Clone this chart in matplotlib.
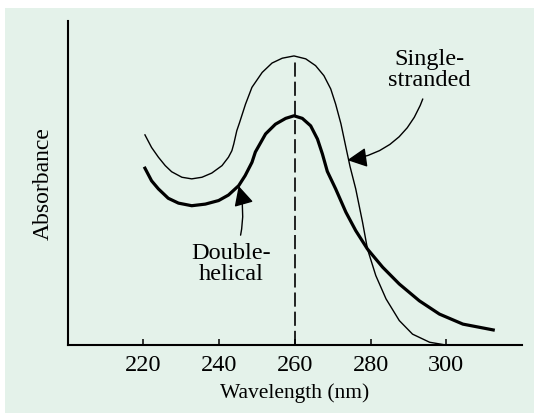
import matplotlib
matplotlib.use('Agg')
import matplotlib.pyplot as plt
from matplotlib.patches import Rectangle

# single-stranded (thin line)
ss_nm = [220.45, 222.2, 224.0, 225.8, 227.5, 230.2, 232.8, 235.5, 238.1, 240.8,
         242.5, 243.4, 243.9, 244.7, 245.4, 247.0, 248.7, 251.4, 254.0, 256.7,
         259.8, 262.9, 265.5, 267.7, 269.5, 270.8, 272.2, 273.5, 274.6, 276.1,
         277.9, 279.2, 281.4, 284.1, 287.6, 291.1, 295.6, 299.1]
ss_abs = [0.648, 0.609, 0.579, 0.553, 0.534, 0.517, 0.512, 0.517, 0.530, 0.553,
          0.579, 0.599, 0.620, 0.661, 0.685, 0.743, 0.795, 0.841, 0.870, 0.885,
          0.892, 0.883, 0.862, 0.831, 0.790, 0.743, 0.682, 0.610, 0.550, 0.481,
          0.378, 0.295, 0.213, 0.141, 0.074, 0.032, 0.007, 0.0]

# double-helical (thick line)
ds_nm = [220.45, 222.2, 224.0, 226.6, 229.3, 232.8, 236.4, 239.9, 242.5, 245.2,
         246.9, 248.7, 249.6, 252.3, 254.9, 257.6, 259.8, 262.0, 264.2, 266.0,
         267.3, 268.6, 270.8, 273.5, 276.1, 279.2, 283.2, 287.6, 292.9, 298.2,
         304.4, 312.4]
ds_abs = [0.545, 0.506, 0.481, 0.452, 0.437, 0.429, 0.434, 0.445, 0.462, 0.491,
          0.522, 0.563, 0.595, 0.651, 0.681, 0.699, 0.707, 0.699, 0.676, 0.635,
          0.589, 0.535, 0.481, 0.409, 0.352, 0.295, 0.239, 0.187, 0.135, 0.094,
          0.063, 0.045]

peak_nm = 260
xticks = [220, 240, 260, 280, 300]

bg = '#e4f2ea'
serif = ['Liberation Serif', 'DejaVu Serif']

fig = plt.figure(figsize=(5.34, 4.14), dpi=100)
fig.patch.set_facecolor('white')
fig.patches.append(Rectangle((5 / 534, 0), 1, 1 - 9 / 414, transform=fig.transFigure,
                             facecolor=bg, edgecolor='none', zorder=-10))

ax = fig.add_axes([67.5 / 534, 1 - 345.5 / 414, (522 - 67.5) / 534, (345.5 - 22) / 414])
ax.set_facecolor('none')

ax.plot(ss_nm, ss_abs, color='black', lw=1.0, solid_joinstyle='round')
ax.plot(ds_nm, ds_abs, color='black', lw=2.3, solid_joinstyle='round')
ax.plot([peak_nm, peak_nm], [0, 0.874], color='black', lw=1.2, dashes=(8.5, 3))

ax.set_xlim(200, 320)
ax.set_ylim(0, 1)
ax.set_xticks(xticks)
ax.set_xticklabels([str(t) for t in xticks], family=serif, fontsize=17.5)
ax.set_yticks([])
ax.tick_params(axis='x', direction='in', length=4.5, width=1.1, pad=7)
for s in ['top', 'right']:
    ax.spines[s].set_visible(False)
for s in ['left', 'bottom']:
    ax.spines[s].set_linewidth(1.5)

ax.set_xlabel('Wavelength (nm)', family=serif, fontsize=15.5, labelpad=5)
ax.set_ylabel('Absorbance', family=serif, fontsize=17, labelpad=10)

ax.text(243.2, 0.253, 'Double-\nhelical', family=serif, fontsize=17.5,
        ha='center', va='center', linespacing=1.0)
ax.text(295.6, 0.852, 'Single-\nstranded', family=serif, fontsize=17.5,
        ha='center', va='center', linespacing=1.0)

arrow = dict(arrowstyle='-|>,head_length=0.6,head_width=0.3', mutation_scale=20,
             color='black', lw=1.0, shrinkA=0, shrinkB=0)
ax.annotate('', xy=(245.2, 0.49), xytext=(245.7, 0.338),
            arrowprops=dict(arrow, connectionstyle='arc3,rad=0.12'))
ax.annotate('', xy=(273.9, 0.57), xytext=(293.8, 0.759),
            arrowprops=dict(arrow, connectionstyle='arc3,rad=-0.3'))

fig.savefig('out.png', dpi=100)
